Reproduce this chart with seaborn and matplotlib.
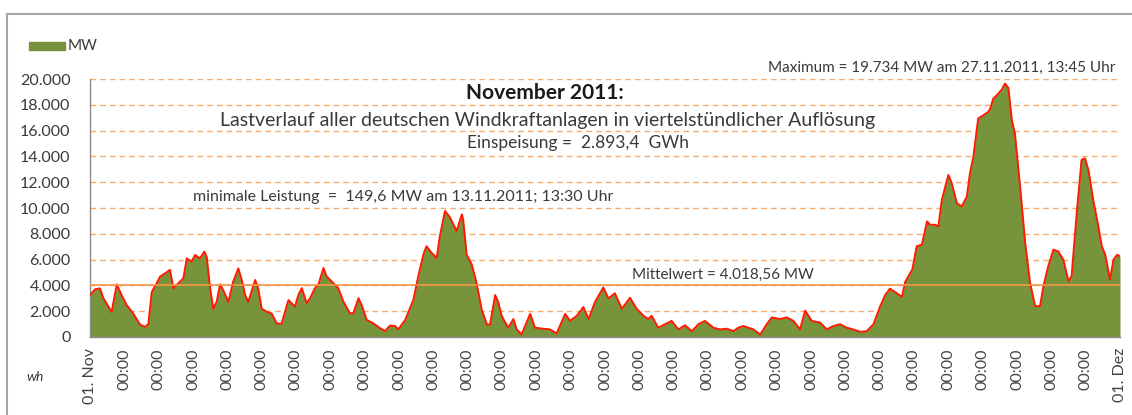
import matplotlib
matplotlib.use("Agg")
import matplotlib.pyplot as plt
from matplotlib.patches import Rectangle
import seaborn as sns
import pandas as pd

# Zeitpunkte (Tage ab 01.11.2011 00:00) und Einspeisung in MW
days = [0.0, 0.15, 0.29, 0.39, 0.63, 0.78, 0.92, 1.07, 1.26, 1.46, 1.60, 1.70, 1.80, 1.94,
        2.04, 2.23, 2.33, 2.43, 2.57, 2.72, 2.82, 2.96, 3.06, 3.20, 3.33, 3.40, 3.50, 3.59,
        3.69, 3.79, 3.88, 4.03, 4.17, 4.32, 4.42, 4.52, 4.61, 4.81, 4.90, 5.00, 5.15, 5.29,
        5.44, 5.58, 5.78, 5.97, 6.07, 6.17, 6.31, 6.41, 6.55, 6.65, 6.80, 6.89, 7.04, 7.23,
        7.38, 7.57, 7.67, 7.82, 7.91, 8.06, 8.25, 8.45, 8.59, 8.74, 8.88, 8.98, 9.18, 9.42,
        9.56, 9.71, 9.80, 9.95, 10.10, 10.19, 10.34, 10.49, 10.68, 10.83, 10.87, 10.97, 11.12,
        11.26, 11.41, 11.56, 11.65, 11.80, 11.89, 11.99, 12.04, 12.18, 12.33, 12.43, 12.57,
        12.82, 12.96, 13.20, 13.40, 13.59, 13.84, 13.98, 14.18, 14.37, 14.52, 14.71, 14.95,
        15.10, 15.29, 15.49, 15.73, 15.92, 16.12, 16.26, 16.36, 16.55, 16.75, 16.94, 17.14,
        17.33, 17.53, 17.72, 17.91, 18.16, 18.35, 18.55, 18.74, 18.88, 19.03, 19.32, 19.52,
        19.71, 19.86, 20.10, 20.29, 20.49, 20.68, 20.83, 21.02, 21.26, 21.46, 21.65, 21.85,
        22.04, 22.23, 22.43, 22.62, 22.82, 23.01, 23.16, 23.30, 23.50, 23.65, 23.74, 23.95,
        24.08, 24.23, 24.38, 24.47, 24.61, 24.71, 24.81, 25.00, 25.10, 25.25, 25.39, 25.54,
        25.63, 25.73, 25.87, 26.02, 26.16, 26.22, 26.31, 26.46, 26.56, 26.65, 26.75, 26.85,
        26.94, 27.09, 27.24, 27.38, 27.53, 27.67, 27.77, 27.91, 28.06, 28.20, 28.35, 28.50,
        28.59, 28.74, 28.88, 28.98, 29.08, 29.22, 29.37, 29.47, 29.57, 29.71, 29.81, 29.92,
        30.0]
mw = [3250, 3700, 3770, 3000, 1950, 4080, 3250, 2470, 1820, 960, 780, 1000, 3500, 4160,
      4680, 5010, 5200, 3770, 4160, 4550, 6100, 5840, 6360, 6100, 6620, 6200, 3770, 2200,
      2730, 4080, 3640, 2730, 4290, 5320, 4420, 3250, 2730, 4420, 3770, 2200, 1950, 1820,
      1040, 1040, 2860, 2360, 3270, 3790, 2620, 3010, 3790, 4050, 5350, 4700, 4310, 3790,
      2750, 1840, 1840, 3010, 2490, 1320, 1060, 680, 470, 880, 860, 600, 1320, 2880,
      4700, 6390, 7040, 6520, 6130, 7820, 9770, 9250, 8210, 9510, 9100, 6390, 5610,
      4180, 2100, 990, 940, 3250, 2720, 1650, 1390, 720, 1390, 590, 190,
      1790, 720, 640, 590, 270, 1790, 1250, 1650, 2320, 1390, 2720, 3840,
      2990, 3390, 2190, 3040, 2190, 1650, 1390, 1650, 720, 990, 1250, 590,
      910, 450, 990, 1250, 720, 590, 640, 450, 720, 850, 590, 190,
      990, 1520, 1390, 1520, 1250, 590, 2050, 1250, 1120, 590, 850, 990,
      720, 590, 400, 450, 990, 2350, 3250, 3750, 3390, 3120, 4250, 5230,
      7030, 7160, 8960, 8700, 8700, 8570, 10630, 12560, 11920, 10370, 10120, 10890,
      12690, 13980, 16940, 17190, 17450, 17700, 18480, 18870, 19200, 19650, 19300, 16810,
      15780, 11660, 7280, 4200, 2390, 2390, 3940, 5480, 6770, 6640, 6000, 4320,
      4710, 9600, 13720, 13850, 12950, 10630, 8570, 7030, 6380, 4450, 6000, 6380,
      6250]

mittelwert = 4018.56
y_ticks = list(range(0, 20001, 2000))
x_ticks = list(range(31))
x_labels = ["01. Nov"] + ["00:00"] * 29 + ["01. Dez"]

df = pd.DataFrame({"Tag": days, "MW": mw})

sns.set_style("white")
plt.rcParams["font.family"] = ["Lato", "DejaVu Sans"]

green = "#77933C"
orange = "#F79646"
txt = "#3A3A3A"

fig = plt.figure(figsize=(11.32, 4.15), dpi=100)
ax = fig.add_axes([90 / 1132, 1 - 337 / 415, 1030 / 1132, 258 / 415])

# Rahmen um das Diagramm
fig.patches.append(Rectangle((7 / 1132, -0.05), 1.2, 1 - 14 / 415 + 0.05,
                             transform=fig.transFigure, fill=False,
                             edgecolor="#A6A6A6", linewidth=1.5))

ax.fill_between(df["Tag"], df["MW"], color=green, linewidth=0, zorder=2)
sns.lineplot(data=df, x="Tag", y="MW", ax=ax, color="#FF1A00", linewidth=1.4, zorder=3)

for v in y_ticks[1:]:
    ax.axhline(v, color=orange, linestyle=(0, (4, 3)), linewidth=1.0, alpha=0.8, zorder=1)
ax.axhline(mittelwert, color=orange, linewidth=1.2, zorder=4)

ax.set_xlim(0, 30)
ax.set_ylim(0, 20000)
ax.set_xticks(x_ticks)
ax.set_xticklabels(x_labels, rotation=90, fontsize=11.5, color="#444444")
ax.set_yticks(y_ticks)
ax.set_yticklabels([f"{v:,}".replace(",", ".") for v in y_ticks], fontsize=11.5, color=txt)
ax.tick_params(axis="both", direction="out", length=5, width=1, color="#8C8C8C", pad=3)
ax.tick_params(axis="y", pad=9)
ax.set_xlabel("")
ax.set_ylabel("")
for s in ["top", "right"]:
    ax.spines[s].set_visible(False)
for s in ["left", "bottom"]:
    ax.spines[s].set_color("#8C8C8C")
    ax.spines[s].set_linewidth(1)

ax.text(13.25, 18915, "November 2011:", ha="center", va="center", fontsize=15,
        fontweight="bold", color="#1A1A1A")
ax.text(13.34, 16820,
        "Lastverlauf aller deutschen Windkraftanlagen in viertelstündlicher Auflösung",
        ha="center", va="center", fontsize=14, color=txt)
ax.text(10.98, 15040, "Einspeisung =  2.893,4  GWh", ha="left", va="center",
        fontsize=12.5, color=txt)
ax.text(3.0, 10850, "minimale Leistung  =  149,6 MW am 13.11.2011; 13:30 Uhr",
        ha="left", va="center", fontsize=11.5, color=txt)
ax.text(29.86, 20850, "Maximum = 19.734 MW am 27.11.2011, 13:45 Uhr", ha="right",
        va="center", fontsize=11, color=txt)
ax.text(15.79, 4800, "Mittelwert = 4.018,56 MW", ha="left", va="center",
        fontsize=11, color=txt)

# Legende und Achsenbeschriftung
fig.patches.append(Rectangle((29 / 1132, 1 - 50 / 415), 36 / 1132, 8 / 415,
                             transform=fig.transFigure, color=green))
fig.text(68 / 1132, 1 - 46 / 415, "MW", ha="left", va="center", fontsize=11, color=txt)
fig.text(26 / 1132, 1 - 377 / 415, "wh", ha="left", va="center", fontsize=10,
         style="italic", color=txt)

fig.savefig("out.png", dpi=100)
